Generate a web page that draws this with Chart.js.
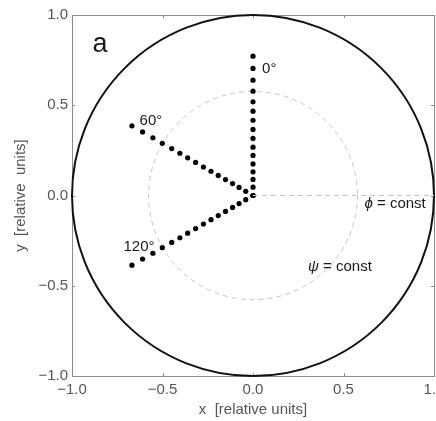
<!DOCTYPE html>
<html>
<head>
<meta charset="utf-8">
<script src="https://cdn.jsdelivr.net/npm/chart.js@4.4.0/dist/chart.umd.min.js"></script>
<style>
  html, body { margin: 0; padding: 0; background: #fff; overflow: hidden; }
  #wrap { width: 460px; height: 421px; }
</style>
</head>
<body>
<div id="wrap"><canvas id="chart" width="460" height="421"></canvas></div>
<script>
// DOTS ALONG THE THREE RAYS (relative units)
const ray0X = [0, 0, 0, 0, 0, 0, 0, 0, 0, 0, 0, 0, 0, 0, 0, 0];
const ray0Y = [0, 0.046, 0.089, 0.131, 0.175, 0.222, 0.268, 0.316, 0.366, 0.417, 0.467, 0.519, 0.578, 0.639, 0.704, 0.772];

const ray60X = [0, -0.040, -0.077, -0.113, -0.152, -0.192, -0.232, -0.274, -0.317, -0.361, -0.404, -0.449, -0.501, -0.553, -0.610, -0.669];
const ray60Y = [0, 0.023, 0.045, 0.066, 0.088, 0.111, 0.134, 0.158, 0.183, 0.209, 0.234, 0.260, 0.289, 0.320, 0.352, 0.386];

const ray120X = [0, -0.040, -0.077, -0.113, -0.152, -0.192, -0.232, -0.274, -0.317, -0.361, -0.404, -0.449, -0.501, -0.553, -0.610, -0.669];
const ray120Y = [0, -0.023, -0.045, -0.066, -0.088, -0.111, -0.134, -0.158, -0.183, -0.209, -0.234, -0.260, -0.289, -0.320, -0.352, -0.386];

// circles (outer boundary, psi = const) and the phi = const line
const circleRadii = [1.0, 0.577];
const phiLineX = [0, 1];
const phiLineY = [0, 0];

// axis ticks
const tickValues = [-1.0, -0.5, 0.0, 0.5, 1.0];

const FONT = "'Liberation Sans', Arial, sans-serif";

function toPoints(xs, ys) {
  return xs.map((v, i) => ({ x: v, y: ys[i] }));
}

function fmtTick(v) {
  return (v < 0 ? "\u2212" : "") + Math.abs(v).toFixed(1);
}

// frame, circles (drawn through the scales)
const backdropPlugin = {
  id: "backdrop",
  beforeDatasetsDraw(chart) {
    const { ctx, chartArea: a, scales } = chart;
    const sx = scales.x, sy = scales.y;
    ctx.save();

    // frame round the plot
    ctx.strokeStyle = "#8c8c8c";
    ctx.lineWidth = 1;
    ctx.strokeRect(a.left + 0.5, a.top + 0.5, a.right - a.left, a.bottom - a.top);

    // small inside ticks
    ctx.beginPath();
    tickValues.forEach((t) => {
      const px = Math.round(sx.getPixelForValue(t)) + 0.5;
      const py = Math.round(sy.getPixelForValue(t)) + 0.5;
      ctx.moveTo(px, a.bottom); ctx.lineTo(px, a.bottom - 3);
      ctx.moveTo(px, a.top); ctx.lineTo(px, a.top + 3);
      ctx.moveTo(a.left, py); ctx.lineTo(a.left + 3, py);
      ctx.moveTo(a.right, py); ctx.lineTo(a.right - 3, py);
    });
    ctx.stroke();

    // circles
    const cx = sx.getPixelForValue(0);
    const cy = sy.getPixelForValue(0);
    circleRadii.forEach((r, i) => {
      const rx = sx.getPixelForValue(r) - cx;
      const ry = cy - sy.getPixelForValue(r);
      ctx.beginPath();
      ctx.ellipse(cx, cy, rx, ry, 0, 0, Math.PI * 2);
      if (i === 0) {
        ctx.setLineDash([]);
        ctx.strokeStyle = "#111";
        ctx.lineWidth = 2;
      } else {
        ctx.setLineDash([5, 4]);
        ctx.strokeStyle = "#c4c4c4";
        ctx.lineWidth = 1;
      }
      ctx.stroke();
    });
    ctx.restore();
  },
};

// text labels on the plot
const annotations = [
  { text: "a", x: -0.845, y: 0.835, size: 27, align: "center" },
  { text: "0\u00b0", x: 0.05, y: 0.70, size: 15, align: "left" },
  { text: "60\u00b0", x: -0.564, y: 0.416, size: 15, align: "center" },
  { text: "120\u00b0", x: -0.63, y: -0.283, size: 15, align: "center" },
  { italic: "\u03d5", text: " = const", x: 0.785, y: -0.044, size: 15, align: "center" },
  { italic: "\u03c8", text: " = const", x: 0.48, y: -0.393, size: 15, align: "center" },
];

const labelPlugin = {
  id: "labels",
  afterDatasetsDraw(chart) {
    const { ctx, scales } = chart;
    ctx.save();
    ctx.fillStyle = "#1a1a1a";
    ctx.textBaseline = "middle";
    ctx.textAlign = "left";
    annotations.forEach((a) => {
      const px = scales.x.getPixelForValue(a.x);
      const py = scales.y.getPixelForValue(a.y);
      const font = a.size + "px " + FONT;
      const italicFont = "italic " + font;
      ctx.font = italicFont;
      const wi = a.italic ? ctx.measureText(a.italic).width : 0;
      ctx.font = font;
      const wt = ctx.measureText(a.text).width;
      let left = a.align === "center" ? px - (wi + wt) / 2 : px;
      if (a.italic) {
        ctx.font = italicFont;
        ctx.fillText(a.italic, left, py);
        left += wi;
        ctx.font = font;
      }
      ctx.fillText(a.text, left, py);
    });
    ctx.restore();
  },
};

const dotStyle = {
  showLine: false,
  pointRadius: 2.6,
  pointHoverRadius: 2.6,
  pointBackgroundColor: "#000",
  pointBorderWidth: 0,
};

new Chart(document.getElementById("chart").getContext("2d"), {
  type: "scatter",
  data: {
    datasets: [
      {
        label: "phi = const",
        data: toPoints(phiLineX, phiLineY),
        showLine: true,
        borderColor: "#c4c4c4",
        borderWidth: 1,
        borderDash: [5, 4],
        pointRadius: 0,
      },
      { label: "0", data: toPoints(ray0X, ray0Y), ...dotStyle },
      { label: "60", data: toPoints(ray60X, ray60Y), ...dotStyle },
      { label: "120", data: toPoints(ray120X, ray120Y), ...dotStyle },
    ],
  },
  options: {
    responsive: false,
    animation: false,
    layout: { padding: { left: 0, top: 15, right: 26, bottom: 0 } },
    plugins: {
      legend: { display: false },
      tooltip: { enabled: false },
    },
    scales: {
      x: {
        type: "linear",
        min: -1,
        max: 1,
        grid: { display: false, drawTicks: false },
        border: { display: false },
        afterFit: (s) => { s.height = 45; },
        afterBuildTicks: (s) => { s.ticks = tickValues.map((v) => ({ value: v })); },
        ticks: {
          padding: 5,
          color: "#555",
          font: { family: FONT, size: 15 },
          maxRotation: 0,
          callback: fmtTick,
        },
        title: {
          display: true,
          text: "x  [relative units]",
          color: "#555",
          font: { family: FONT, size: 15 },
          padding: { top: 0, bottom: 2 },
        },
      },
      y: {
        type: "linear",
        min: -1,
        max: 1,
        grid: { display: false, drawTicks: false },
        border: { display: false },
        afterFit: (s) => { s.width = 72; },
        afterBuildTicks: (s) => { s.ticks = tickValues.map((v) => ({ value: v })); },
        ticks: {
          padding: 4,
          color: "#555",
          font: { family: FONT, size: 15 },
          callback: fmtTick,
        },
        title: {
          display: true,
          text: "y  [relative  units]",
          color: "#555",
          font: { family: FONT, size: 15 },
          padding: { top: 12, bottom: 0 },
        },
      },
    },
  },
  plugins: [backdropPlugin, labelPlugin],
});
</script>
</body>
</html>
